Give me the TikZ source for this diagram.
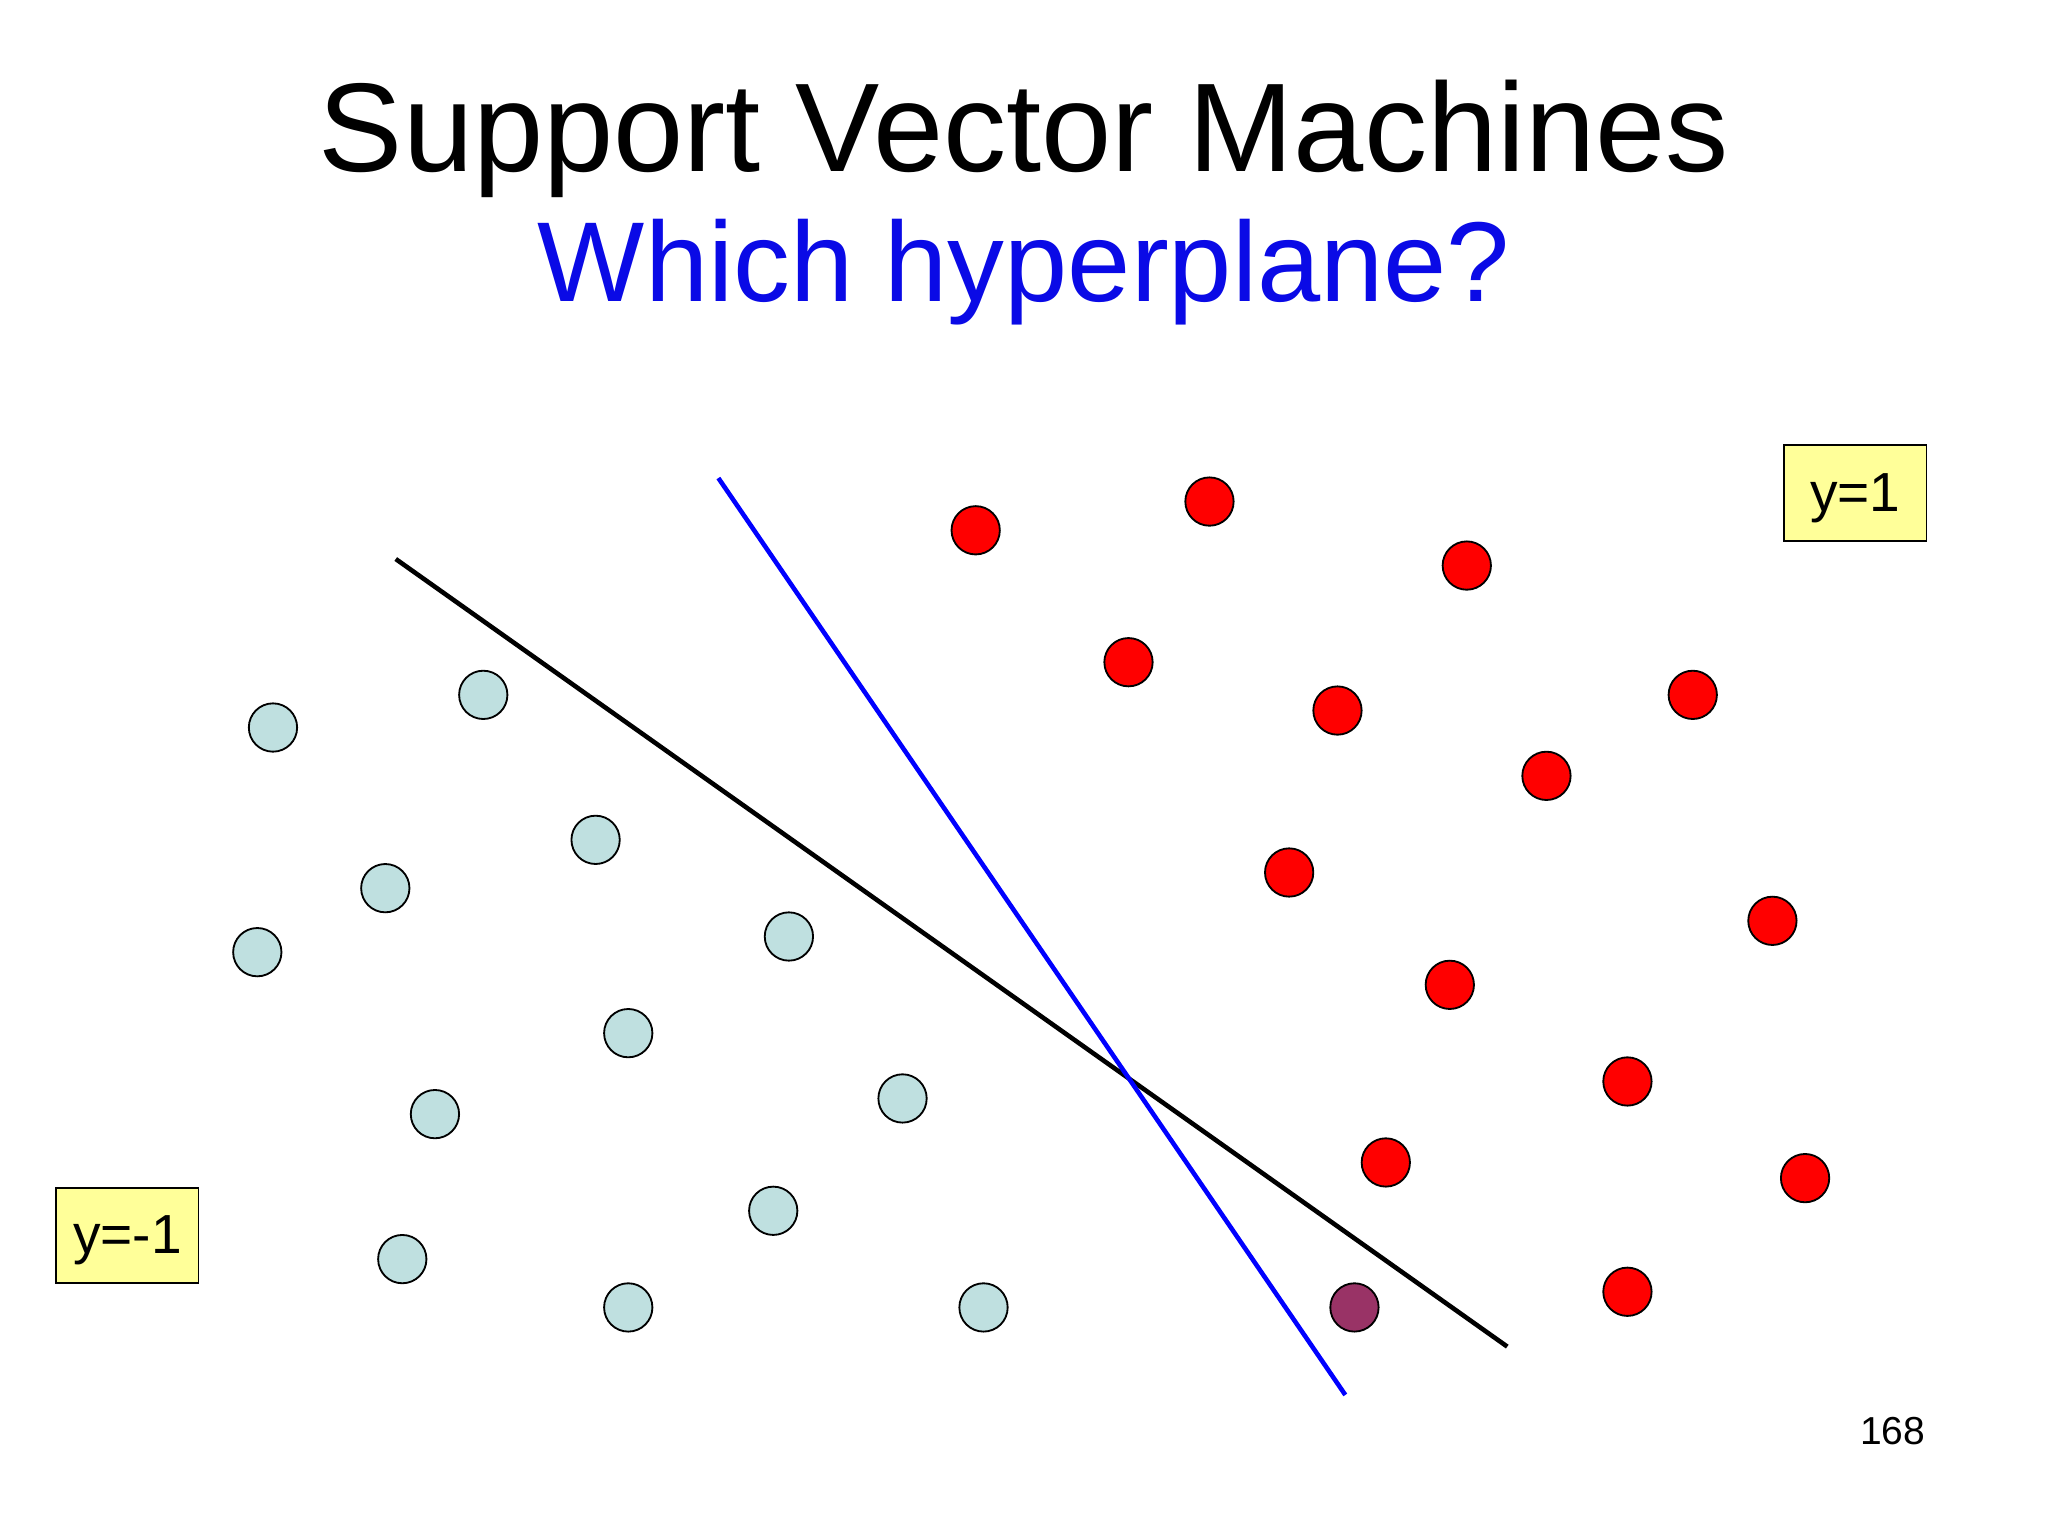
\documentclass[tikz,border=0pt]{standalone}
\usepackage{fontspec}
\setmainfont{Liberation Sans}
\begin{document}
\begin{tikzpicture}[x=0.02cm,y=-0.02cm,
  negdot/.style={circle,draw=black,fill=negc,minimum size=0.74cm,inner sep=0pt,line width=0.8pt},
  posdot/.style={circle,draw=black,fill=red,minimum size=0.74cm,inner sep=0pt,line width=0.8pt},
  lab/.style={draw=black,fill=labc,minimum width=2.18cm,minimum height=1.46cm,text height=16pt,text depth=0pt,font=\fontsize{24}{28}\selectfont,line width=0.8pt}]
\definecolor{negc}{HTML}{BFE0E0}
\definecolor{labc}{HTML}{FFFF99}
\definecolor{purp}{HTML}{993366}
\useasboundingbox[fill=white] (0,0) rectangle (1568,1176);
\node (t1) at (784,106) {\fontsize{55}{60}\selectfont Support Vector Machines};
\node[text={rgb,255:red,10;green,10;blue,230}] (t2) at (784,208) {\fontsize{49.5}{55}\selectfont Which hyperplane?};
\coordinate (b1) at (303,428); \coordinate (b2) at (1154,1031);
\coordinate (l1) at (550,366); \coordinate (l2) at (1030,1068);
\draw[line width=2pt] (b1) -- (b2);
\draw[line width=2pt,blue] (l1) -- (l2);
\foreach \x/\y [count=\i] in {209/557,370/532,456/643,295/680,197/729,604/717,481/791,333/853,691/841,592/927,308/964,481/1001,753/1001}
  \node[negdot] (n\i) at (\x,\y) {};
\foreach \x/\y [count=\i] in {747/406,926/384,1123/433,864/507,1024/544,1296/532,1184/594,987/668,1357/705,1110/754,1246/828,1061/890,1382/902,1246/989}
  \node[posdot] (p\i) at (\x,\y) {};
\node[posdot,fill=purp] (pp) at (1037,1001) {};
\node[lab] (y1) at (1420.5,377.5) {y=1};
\node[lab] (ym) at (97.5,946) {y=-1};
\node (pg) at (1449,1096) {\fontsize{17}{20}\selectfont 168};
\end{tikzpicture}
\end{document}
